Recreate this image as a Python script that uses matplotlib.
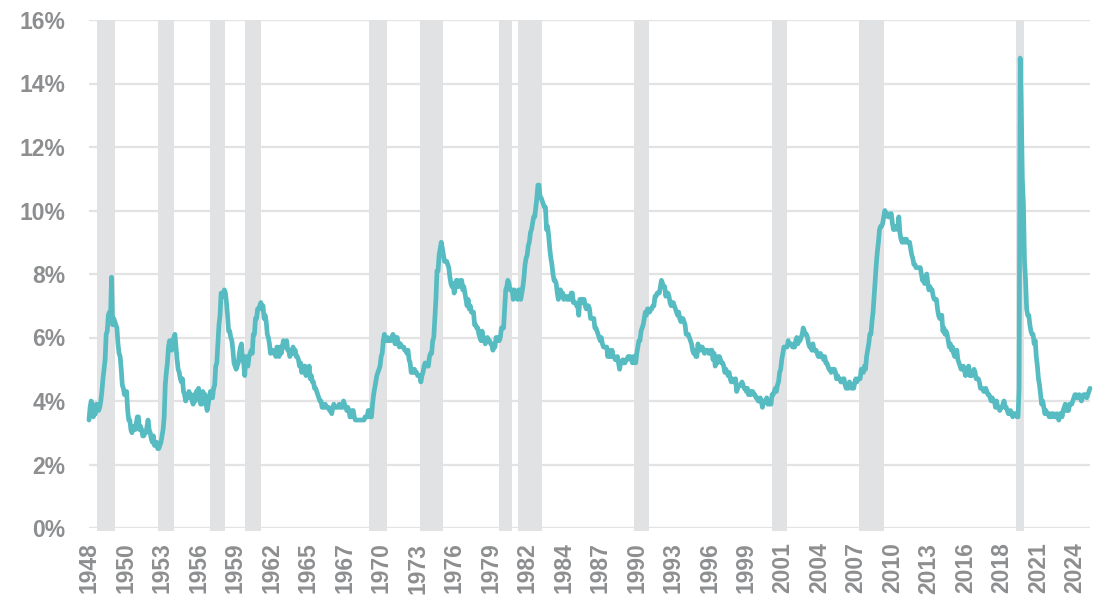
import matplotlib
matplotlib.use("Agg")
import matplotlib.pyplot as plt
import numpy as np

# Monthly US unemployment rate (%), Jan 1948 - Sep 2025
unemp_1940s = [
    3.4, 3.8, 4.0, 3.9, 3.5, 3.6, 3.6, 3.9, 3.8, 3.7, 3.8, 4.0,   # 1948
    4.3, 4.7, 5.0, 5.3, 6.1, 6.2, 6.7, 6.8, 6.6, 7.9, 6.4, 6.6,   # 1949
]
unemp_1950s = [
    6.5, 6.4, 6.3, 5.8, 5.5, 5.4, 5.0, 4.5, 4.4, 4.2, 4.2, 4.3,
    3.7, 3.4, 3.4, 3.1, 3.0, 3.2, 3.1, 3.1, 3.3, 3.5, 3.5, 3.1,
    3.2, 3.1, 2.9, 2.9, 3.0, 3.0, 3.2, 3.4, 3.1, 3.0, 2.8, 2.7,
    2.9, 2.6, 2.6, 2.7, 2.5, 2.5, 2.6, 2.7, 2.9, 3.1, 3.5, 4.5,
    4.9, 5.2, 5.7, 5.9, 5.9, 5.6, 5.8, 6.0, 6.1, 5.7, 5.3, 5.0,
    4.9, 4.7, 4.6, 4.7, 4.3, 4.2, 4.0, 4.2, 4.1, 4.3, 4.2, 4.2,
    4.0, 3.9, 4.2, 4.0, 4.3, 4.3, 4.4, 4.1, 3.9, 3.9, 4.3, 4.2,
    4.2, 3.9, 3.7, 3.9, 4.1, 4.3, 4.2, 4.1, 4.4, 4.5, 5.1, 5.2,
    5.8, 6.4, 6.7, 7.4, 7.4, 7.3, 7.5, 7.4, 7.1, 6.7, 6.2, 6.2,
    6.0, 5.9, 5.6, 5.2, 5.1, 5.0, 5.1, 5.2, 5.5, 5.7, 5.8, 5.3,
]
unemp_1960s = [
    5.2, 4.8, 5.4, 5.2, 5.1, 5.4, 5.5, 5.6, 5.5, 6.1, 6.1, 6.6,
    6.6, 6.9, 6.9, 7.0, 7.1, 6.9, 7.0, 6.6, 6.7, 6.5, 6.1, 6.0,
    5.8, 5.5, 5.6, 5.6, 5.5, 5.5, 5.4, 5.7, 5.6, 5.4, 5.7, 5.5,
    5.7, 5.9, 5.7, 5.7, 5.9, 5.6, 5.6, 5.4, 5.5, 5.5, 5.7, 5.5,
    5.6, 5.4, 5.4, 5.3, 5.1, 5.2, 4.9, 5.0, 5.1, 5.1, 4.8, 5.0,
    4.9, 5.1, 4.7, 4.8, 4.6, 4.6, 4.4, 4.4, 4.3, 4.2, 4.1, 4.0,
    4.0, 3.8, 3.8, 3.8, 3.9, 3.8, 3.8, 3.8, 3.7, 3.7, 3.6, 3.8,
    3.9, 3.8, 3.8, 3.8, 3.8, 3.9, 3.8, 3.8, 3.8, 4.0, 3.9, 3.8,
    3.7, 3.8, 3.7, 3.5, 3.5, 3.7, 3.7, 3.5, 3.4, 3.4, 3.4, 3.4,
    3.4, 3.4, 3.4, 3.4, 3.4, 3.5, 3.5, 3.5, 3.7, 3.7, 3.5, 3.5,
]
unemp_1970s = [
    3.9, 4.2, 4.4, 4.6, 4.8, 4.9, 5.0, 5.1, 5.4, 5.5, 5.9, 6.1,
    5.9, 5.9, 6.0, 5.9, 5.9, 5.9, 6.0, 6.1, 6.0, 5.8, 6.0, 6.0,
    5.8, 5.7, 5.8, 5.7, 5.7, 5.7, 5.6, 5.6, 5.5, 5.6, 5.3, 5.2,
    4.9, 5.0, 4.9, 5.0, 4.9, 4.9, 4.8, 4.8, 4.8, 4.6, 4.8, 4.9,
    5.1, 5.2, 5.1, 5.1, 5.1, 5.4, 5.5, 5.5, 5.9, 6.0, 6.6, 7.2,
    8.1, 8.1, 8.6, 8.8, 9.0, 8.8, 8.6, 8.4, 8.4, 8.4, 8.3, 8.2,
    7.9, 7.7, 7.6, 7.7, 7.4, 7.6, 7.8, 7.8, 7.6, 7.7, 7.8, 7.8,
    7.5, 7.6, 7.4, 7.2, 7.0, 7.2, 6.9, 7.0, 6.8, 6.8, 6.8, 6.4,
    6.4, 6.3, 6.3, 6.1, 6.0, 5.9, 6.2, 5.9, 6.0, 5.8, 5.9, 6.0,
    5.9, 5.9, 5.8, 5.8, 5.6, 5.7, 5.7, 6.0, 5.9, 6.0, 5.9, 6.0,
]
unemp_1980s = [
    6.3, 6.3, 6.3, 6.9, 7.5, 7.6, 7.8, 7.7, 7.5, 7.5, 7.5, 7.2,
    7.5, 7.4, 7.4, 7.2, 7.5, 7.5, 7.2, 7.4, 7.6, 7.9, 8.3, 8.5,
    8.6, 8.9, 9.0, 9.3, 9.4, 9.6, 9.8, 9.8, 10.1, 10.4, 10.8, 10.8,
    10.4, 10.4, 10.3, 10.2, 10.1, 10.1, 9.4, 9.5, 9.2, 8.8, 8.5, 8.3,
    8.0, 7.8, 7.8, 7.7, 7.4, 7.2, 7.5, 7.5, 7.3, 7.4, 7.2, 7.3,
    7.3, 7.2, 7.2, 7.3, 7.2, 7.4, 7.4, 7.1, 7.1, 7.1, 7.0, 7.0,
    6.7, 7.2, 7.2, 7.1, 7.2, 7.2, 7.0, 6.9, 7.0, 7.0, 6.9, 6.6,
    6.6, 6.6, 6.6, 6.3, 6.3, 6.2, 6.1, 6.0, 5.9, 6.0, 5.8, 5.7,
    5.7, 5.7, 5.7, 5.4, 5.6, 5.4, 5.4, 5.6, 5.4, 5.4, 5.3, 5.3,
    5.4, 5.2, 5.0, 5.2, 5.2, 5.3, 5.2, 5.2, 5.3, 5.3, 5.4, 5.4,
]
unemp_1990s = [
    5.4, 5.3, 5.2, 5.4, 5.4, 5.2, 5.5, 5.7, 5.9, 5.9, 6.2, 6.3,
    6.4, 6.6, 6.8, 6.7, 6.9, 6.9, 6.8, 6.9, 6.9, 7.0, 7.0, 7.3,
    7.3, 7.4, 7.4, 7.4, 7.6, 7.8, 7.7, 7.6, 7.6, 7.3, 7.4, 7.4,
    7.3, 7.1, 7.0, 7.1, 7.1, 7.0, 6.9, 6.8, 6.7, 6.8, 6.6, 6.5,
    6.6, 6.6, 6.5, 6.4, 6.1, 6.1, 6.1, 6.0, 5.9, 5.8, 5.6, 5.5,
    5.6, 5.4, 5.4, 5.8, 5.6, 5.6, 5.7, 5.7, 5.6, 5.5, 5.6, 5.6,
    5.6, 5.5, 5.5, 5.6, 5.6, 5.3, 5.5, 5.1, 5.2, 5.2, 5.4, 5.4,
    5.3, 5.2, 5.2, 5.1, 4.9, 5.0, 4.9, 4.8, 4.9, 4.7, 4.6, 4.7,
    4.6, 4.6, 4.7, 4.3, 4.4, 4.5, 4.5, 4.5, 4.6, 4.5, 4.4, 4.4,
    4.3, 4.4, 4.2, 4.3, 4.2, 4.3, 4.3, 4.2, 4.2, 4.1, 4.1, 4.0,
]
unemp_2000s = [
    4.0, 4.1, 4.0, 3.8, 4.0, 4.0, 4.0, 4.1, 3.9, 3.9, 3.9, 3.9,
    4.2, 4.2, 4.3, 4.4, 4.3, 4.5, 4.6, 4.9, 5.0, 5.3, 5.5, 5.7,
    5.7, 5.7, 5.7, 5.9, 5.8, 5.8, 5.8, 5.7, 5.7, 5.7, 5.9, 6.0,
    5.8, 5.9, 5.9, 6.0, 6.1, 6.3, 6.2, 6.1, 6.1, 6.0, 5.8, 5.7,
    5.7, 5.6, 5.8, 5.6, 5.6, 5.6, 5.5, 5.4, 5.4, 5.5, 5.4, 5.4,
    5.3, 5.4, 5.2, 5.2, 5.1, 5.0, 5.0, 4.9, 5.0, 5.0, 5.0, 4.9,
    4.7, 4.8, 4.7, 4.7, 4.6, 4.6, 4.7, 4.7, 4.5, 4.4, 4.5, 4.4,
    4.6, 4.5, 4.4, 4.5, 4.4, 4.6, 4.7, 4.6, 4.7, 4.7, 4.7, 5.0,
    5.0, 4.9, 5.1, 5.0, 5.4, 5.6, 5.8, 6.1, 6.1, 6.5, 6.8, 7.3,
    7.8, 8.3, 8.7, 9.0, 9.4, 9.5, 9.5, 9.6, 9.8, 10.0, 9.9, 9.9,
]
unemp_2010s = [
    9.8, 9.8, 9.9, 9.9, 9.6, 9.4, 9.4, 9.5, 9.5, 9.4, 9.8, 9.3,
    9.1, 9.0, 9.0, 9.1, 9.0, 9.1, 9.0, 9.0, 9.0, 8.8, 8.6, 8.5,
    8.3, 8.3, 8.2, 8.2, 8.2, 8.2, 8.2, 8.0, 7.8, 7.8, 7.7, 7.9,
    8.0, 7.7, 7.5, 7.6, 7.5, 7.5, 7.3, 7.2, 7.2, 7.2, 6.9, 6.7,
    6.6, 6.7, 6.7, 6.2, 6.3, 6.1, 6.2, 6.1, 5.9, 5.7, 5.8, 5.6,
    5.7, 5.5, 5.4, 5.4, 5.6, 5.3, 5.2, 5.1, 5.0, 5.0, 5.1, 5.0,
    4.8, 4.9, 5.0, 5.1, 4.8, 4.9, 4.8, 4.9, 5.0, 4.9, 4.7, 4.7,
    4.7, 4.6, 4.4, 4.4, 4.4, 4.3, 4.3, 4.4, 4.3, 4.2, 4.2, 4.1,
    4.0, 4.1, 4.0, 4.0, 3.8, 4.0, 3.8, 3.8, 3.7, 3.8, 3.8, 3.9,
    4.0, 3.8, 3.8, 3.7, 3.6, 3.6, 3.7, 3.6, 3.5, 3.6, 3.6, 3.6,
]
unemp_2020s = [
    3.5, 3.5, 4.4, 14.8, 13.2, 11.0, 10.2, 8.4, 7.8, 6.9, 6.7, 6.7,
    6.4, 6.2, 6.1, 6.1, 5.8, 5.9, 5.4, 5.1, 4.7, 4.5, 4.2, 3.9,
    4.0, 3.8, 3.6, 3.7, 3.6, 3.6, 3.5, 3.6, 3.5, 3.6, 3.6, 3.5,
    3.5, 3.6, 3.5, 3.4, 3.6, 3.6, 3.5, 3.7, 3.8, 3.9, 3.7, 3.8,
    3.7, 3.9, 3.9, 3.9, 4.0, 4.1, 4.2, 4.2, 4.1, 4.1, 4.2, 4.1,
    4.0, 4.1, 4.2, 4.2, 4.2, 4.1, 4.2, 4.3, 4.4,
]

# NBER recessions (peak month, trough month)
recession_start = ["1948-11", "1953-07", "1957-08", "1960-04", "1969-12", "1973-11",
                   "1980-01", "1981-07", "1990-07", "2001-03", "2007-12", "2020-02"]
recession_end = ["1949-10", "1954-05", "1958-04", "1961-02", "1970-11", "1975-03",
                 "1980-07", "1982-11", "1991-03", "2001-11", "2009-06", "2020-04"]

tick_labels = ["1948", "1950", "1953", "1956", "1959", "1962", "1965", "1967", "1970",
               "1973", "1976", "1979", "1982", "1984", "1987", "1990", "1993", "1996",
               "1999", "2001", "2004", "2007", "2010", "2013", "2016", "2018", "2021", "2024"]
y_ticks = [0, 2, 4, 6, 8, 10, 12, 14, 16]

start_year = 1948
tick_step = 34  # months between labelled categories

values = np.array(unemp_1940s + unemp_1950s + unemp_1960s + unemp_1970s + unemp_1980s
                  + unemp_1990s + unemp_2000s + unemp_2010s + unemp_2020s)
x = np.arange(len(values))


def month_index(s):
    y, m = s.split("-")
    return (int(y) - start_year) * 12 + int(m) - 1


LINE = "#57BCC2"
SHADE = "#E1E2E4"
GRID = "#E3E3E3"
TEXT = "#8D8E90"

fig = plt.figure(figsize=(10.93, 6.05), dpi=100)
ax = fig.add_axes([89 / 1093, 1 - 528 / 605, (1090 - 89) / 1093, (528 - 20) / 605])

for s, e in zip(recession_start, recession_end):
    a = month_index(s) - 2.2
    b = month_index(e) + 3.5
    ax.fill_between([a, b], [-0.09, -0.09], [16, 16], color=SHADE, lw=0, zorder=1,
                    clip_on=False)

for yt in y_ticks:
    ax.axhline(yt, color=GRID, lw=1.6, zorder=0.5)

ax.plot(x, values, color=LINE, lw=3.4, solid_joinstyle="round", solid_capstyle="round",
        zorder=3, clip_on=False)

ax.set_xlim(0, len(values) - 1)
ax.set_ylim(0, 16)
ax.set_yticks(y_ticks)
ax.set_yticklabels([f"{v}%" for v in y_ticks])
ax.set_xticks(np.arange(len(tick_labels)) * tick_step)
ax.set_xticklabels(tick_labels, rotation=90)

for sp in ax.spines.values():
    sp.set_visible(False)
ax.tick_params(axis="both", length=0, colors=TEXT, labelsize=16.5)
ax.tick_params(axis="y", pad=17)
ax.tick_params(axis="x", pad=10.5)
for lab in ax.get_xticklabels() + ax.get_yticklabels():
    lab.set_fontfamily("Liberation Sans")
    lab.set_fontweight("bold")
    lab.set_color(TEXT)

fig.savefig("out.png", dpi=100)
